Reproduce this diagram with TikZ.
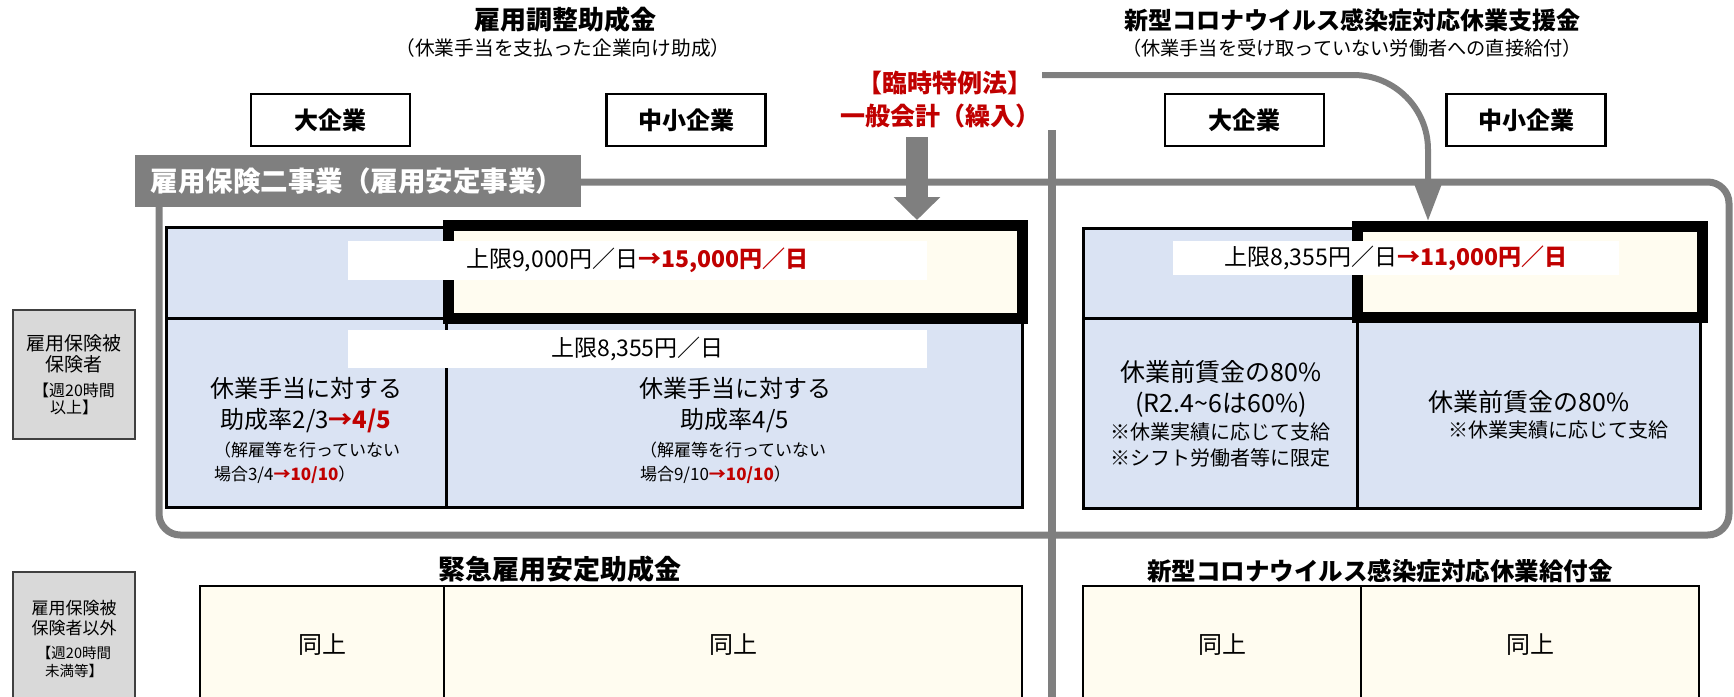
\documentclass[tikz,border=0pt]{standalone}
\usepackage{fontspec}
\setmainfont{Noto Sans CJK JP}
\usetikzlibrary{arrows.meta}
\definecolor{cellblue}{HTML}{DAE3F3}
\definecolor{cellcream}{HTML}{FFFCF0}
\definecolor{linegray}{HTML}{7F7F7F}
\definecolor{accred}{HTML}{C00000}
\definecolor{sidegray}{HTML}{D9D9D9}
\definecolor{sideline}{HTML}{404040}
\newcommand\pxf[2]{\fontsize{\dimexpr #1pt*3/4\relax}{\dimexpr #2pt*3/4\relax}\selectfont}
\newcommand\redb[1]{\textcolor{accred}{\bfseries #1}}
\begin{document}
\begin{tikzpicture}[x=0.75pt,y=-0.75pt,
  box/.style={rectangle, inner sep=0pt, outer sep=0pt},
  bluecell/.style={box, draw=black, line width=2.25pt, fill=cellblue},
  creamcell/.style={box, draw=black, line width=2pt, fill=cellcream, font=\pxf{24}{28}},
  thickcell/.style={box, draw=black, line width=8.25pt, fill=cellcream, outer sep=4.125pt},
  capbox/.style={box, fill=white, font=\pxf{23}{26}},
  sizebox/.style={box, draw=black, line width=2pt, fill=white, minimum width=119.25pt, minimum height=39pt, font=\pxf{24}{28}\bfseries},
  sidebox/.style={box, draw=sideline, line width=1.5pt, fill=sidegray, minimum width=91.5pt},
  title/.style={box, font=\pxf{26}{30}\bfseries},
  subtitle/.style={box, font=\pxf{19.7}{22}},
  txt/.style={box, align=center},
  fatarrow/.style={draw=linegray, line width=16.5pt, -{Triangle[width=34pt,length=17.25pt]}},
  curvearrow/.style={draw=linegray, line width=4.5pt, rounded corners=56pt, -{Triangle[width=20pt,length=28.5pt]}},
  frameline/.style={draw=linegray, line width=5.25pt, rounded corners=16pt},
  divider/.style={draw=linegray, line width=6pt},
]
\useasboundingbox (0,0) rectangle (1734,696);

% titles
\node[title] (t1) at (565,20) {雇用調整助成金};
\node[subtitle] (s1) at (563,48) {（休業手当を支払った企業向け助成）};
\node[title, font=\pxf{24}{28}\bfseries] (t2) at (1352,20) {新型コロナウイルス感染症対応休業支援金};
\node[subtitle, font=\pxf{19.2}{22}] (s2) at (1352,48) {（休業手当を受け取っていない労働者への直接給付）};

% red source text
\node[box, text=accred, font=\pxf{25}{28}\bfseries] (redA) at (945,83) {【臨時特例法】};
\node[box, text=accred, font=\pxf{25}{28}\bfseries] (redB) at (940,116) {一般会計（繰入）};

% size headers
\node[sizebox] (bigL) at (330.5,120) {大企業};
\node[sizebox] (smallL) at (686,120) {中小企業};
\node[sizebox] (bigR) at (1244.5,120) {大企業};
\node[sizebox] (smallR) at (1526,120) {中小企業};

% frame of employment insurance two projects
\draw[frameline] (159,182) rectangle (1729,535);
\coordinate (divT) at (1052,130);
\coordinate (divB) at (1052,700);
\draw[divider] (divT) -- (divB);
\node[box, fill=linegray, minimum width=334.5pt, minimum height=39pt] (jigyo) at (358,181) {};
\node[box, text=white, font=\pxf{27.5}{30}\bfseries] (jigyot) at (357,181) {雇用保険二事業（雇用安定事業）};

% side labels
\node[sidebox, minimum height=96.75pt] (side1) at (74,374.5) {};
\node[txt, font=\pxf{19}{21}] (side1a) at (74,353.5) {雇用保険被\\保険者};
\node[txt, font=\pxf{16}{17}] (side1b) at (74,398.5) {【週20時間\\以上】};
\node[sidebox, minimum height=103.5pt] (side2) at (74,641) {};
\node[txt, font=\pxf{17}{20}] (side2a) at (74,618) {雇用保険被\\保険者以外};
\node[txt, font=\pxf{14.5}{18}] (side2b) at (74,662) {【週20時間\\未満等】};

% left table
\node[bluecell, minimum width=210pt, minimum height=68.25pt] (cL11) at (306,272.5) {};
\node[bluecell, minimum width=210pt, minimum height=141.75pt] (cL21) at (306,412.5) {};
\node[bluecell, minimum width=432pt, minimum height=141.75pt] (cL22) at (734,412.5) {};
% right table
\node[bluecell, minimum width=205.5pt, minimum height=67.5pt] (cR11) at (1220,273) {};
\node[bluecell, minimum width=205.5pt, minimum height=142.5pt] (cR21) at (1220,413) {};
\node[bluecell, minimum width=257.25pt, minimum height=142.5pt] (cR22) at (1528.5,413) {};

% arrows
\coordinate (fatS) at (917,137);
\coordinate (curS) at (1042,75);
\coordinate (curC) at (1428,75);

% thick boxes
\node[thickcell, minimum width=430.5pt, minimum height=69.75pt] (thickL) at (735.5,272) {};
\node[thickcell, minimum width=258.75pt, minimum height=68.25pt] (thickR) at (1530,272) {};
\draw[fatarrow] (fatS) -- (fatS |- thickL.north);
\draw[curvearrow] (curS) -- (curC) -- (curC |- thickR.north);

% caption boxes
\node[capbox, minimum width=434.25pt, minimum height=29.25pt] (cap1) at (637.5,260.5) {上限9,000円／日\redb{→15,000円／日}};
\node[capbox, minimum width=434.25pt, minimum height=28.5pt] (cap2) at (637.5,349) {上限8,355円／日};
\node[capbox, minimum width=334.5pt, minimum height=25.5pt] (cap3) at (1396,258) {上限8,355円／日\redb{→11,000円／日}};

% cell texts left
\node[txt, font=\pxf{24}{31}] (l21a) at (306,405.5) {休業手当に対する\\助成率2/3\redb{→4/5}};
\node[txt, align=left, anchor=west, font=\pxf{17}{24}] (l21b) at (214,463) {（解雇等を行っていない\\場合3/4\redb{→10/10}）};
\node[txt, font=\pxf{24}{31}] (l22a) at (735,405.5) {休業手当に対する\\助成率4/5};
\node[txt, align=left, anchor=west, font=\pxf{17}{24}] (l22b) at (640,463) {（解雇等を行っていない\\場合9/10\redb{→10/10}）};
% cell texts right
\node[txt, font=\pxf{25}{31}] (r21a) at (1221,388.5) {休業前賃金の80\%\\(R2.4\textasciitilde 6は60\%)};
\node[txt, align=left, anchor=west, font=\pxf{20}{26}] (r21b) at (1110,445) {※休業実績に応じて支給\\※シフト労働者等に限定};
\node[txt, font=\pxf{25}{28}] (r22a) at (1529,402) {休業前賃金の80\%};
\node[txt, font=\pxf{20}{26}] (r22b) at (1558,430) {※休業実績に応じて支給};

% bottom section
\node[title, font=\pxf{27}{30}\bfseries] (t3) at (560,569) {緊急雇用安定助成金};
\node[title, font=\pxf{24.5}{28}\bfseries] (t4) at (1380,571) {新型コロナウイルス感染症対応休業給付金};
\node[creamcell, minimum width=183pt, minimum height=88.5pt] (b1) at (322,645) {同上};
\node[creamcell, minimum width=433.5pt, minimum height=88.5pt] (b2) at (733,645) {同上};
\node[creamcell, minimum width=208.5pt, minimum height=88.5pt] (b3) at (1222,645) {同上};
\node[creamcell, minimum width=253.5pt, minimum height=88.5pt] (b4) at (1530,645) {同上};
\end{tikzpicture}
\end{document}
